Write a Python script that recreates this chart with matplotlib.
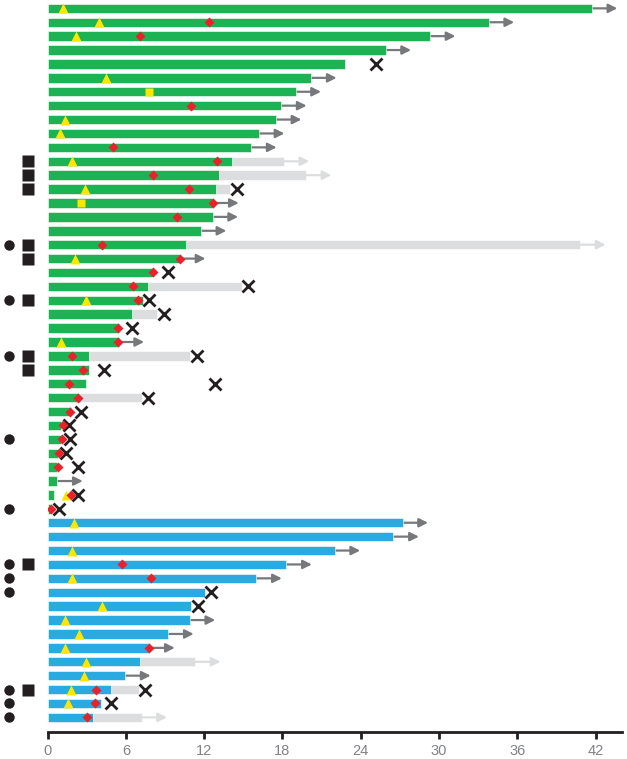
import numpy as np
import matplotlib.pyplot as plt

# one entry per patient, top to bottom
group = ['g'] * 37 + ['b'] * 15
bar_end = [41.7, 33.8, 29.3, 25.9, 22.8, 20.2, 19.0, 17.9, 17.5, 16.2,
           15.6, 14.1, 13.1, 12.9, 12.7, 12.65, 11.75, 10.6, 10.15, 8.1,
           7.7, 7.3, 6.5, 5.5, 5.45, 3.2, 3.2, 2.95, 2.4, 1.8,
           1.05, 1.05, 0.8, 0.75, 0.75, 0.5, 0.3,
           27.2, 26.5, 22.0, 18.3, 16.0, 12.05, 11.0, 10.9, 9.25, 7.8,
           7.1, 5.95, 4.85, 4.1, 3.45]
grey_end = {11: 18.1, 12: 19.8, 13: 14.0, 17: 40.8, 20: 14.9, 22: 8.4,
            25: 10.9, 28: 7.2, 47: 11.3, 49: 7.0, 51: 7.2}
ongoing = [1, 1, 1, 1, 0, 1, 1, 1, 1, 1, 1, 1, 1, 0, 1, 1, 1, 1, 1, 0,
           0, 0, 0, 0, 1, 0, 0, 0, 0, 0, 0, 0, 0, 0, 1, 0, 0,
           1, 1, 1, 1, 1, 0, 0, 1, 1, 1, 1, 1, 0, 0, 1]
death = {4: 25.2, 13: 14.5, 19: 9.2, 20: 15.35, 21: 7.8, 22: 8.9, 23: 6.5,
         25: 11.45, 26: 4.3, 27: 12.8, 28: 7.7, 29: 2.6, 30: 1.65, 31: 1.75,
         32: 1.45, 33: 2.3, 35: 2.3, 36: 0.85,
         42: 12.5, 43: 11.5, 49: 7.5, 50: 4.85}
triangle = {0: 1.2, 1: 3.95, 2: 2.2, 5: 4.5, 8: 1.35, 9: 0.95, 11: 1.85,
            13: 2.9, 18: 2.1, 21: 2.95, 24: 1.05, 35: 1.45,
            37: 2.0, 39: 1.85, 41: 1.85, 43: 4.2, 44: 1.35, 45: 2.4, 46: 1.35,
            47: 2.95, 48: 2.8, 49: 1.8, 50: 1.6}
diamond = {1: 12.4, 2: 7.1, 7: 11.0, 10: 5.05, 11: 13.0, 12: 8.05, 13: 10.85,
           14: 12.7, 15: 9.9, 17: 4.15, 18: 10.15, 19: 8.05, 20: 6.55, 21: 6.95,
           23: 5.4, 24: 5.4, 25: 1.9, 26: 2.7, 27: 1.65, 28: 2.35, 29: 1.75,
           30: 1.15, 31: 1.1, 32: 0.9, 33: 0.8, 35: 1.8, 36: 0.3,
           40: 5.7, 41: 7.9, 46: 7.8, 49: 3.75, 50: 3.6, 51: 3.0}
ysquare = {6: 7.8, 14: 2.55}
circle_rows = [17, 21, 25, 31, 36, 40, 41, 42, 49, 50, 51]
square_rows = [11, 12, 13, 17, 18, 21, 25, 26, 40, 49]

green = '#1db254'
blue = '#29abe2'
grey = '#dcddde'
dark = '#77787b'

fig = plt.figure(figsize=(6.27, 7.59), dpi=100)
ax = fig.add_axes([0.0758, 0.0356, 0.916, 0.9644])

n = len(bar_end)
y = np.arange(n)
h = 0.68
cols = [green if g == 'g' else blue for g in group]
ax.barh(y, bar_end, height=h, color=cols, edgecolor='white', linewidth=0.4, zorder=2)
for i in range(n):
    g_end = grey_end.get(i)
    if g_end is not None:
        ax.barh(i, g_end - bar_end[i], left=bar_end[i], height=h,
                color=grey, edgecolor='white', linewidth=0.4, zorder=1)
    if ongoing[i]:
        start = g_end if g_end is not None else bar_end[i]
        c = grey if g_end is not None else dark
        ax.annotate('', xy=(start + 1.95, i), xytext=(start, i),
                    arrowprops=dict(arrowstyle='-|>', color=c, lw=1.6,
                                    mutation_scale=13, shrinkA=0, shrinkB=0),
                    zorder=1)

ax.plot(list(death.values()), list(death.keys()), 'x', color='#231f20',
        ms=8, mew=2, zorder=4)
ax.plot(list(triangle.values()), list(triangle.keys()), '^', color='#ffe600',
        ms=7.5, mec='none', zorder=3)
ax.plot(list(diamond.values()), list(diamond.keys()), 'D', color='#e8212a',
        ms=5, mec='none', zorder=5)
ax.plot(list(ysquare.values()), list(ysquare.keys()), 's', color='#ffe600',
        ms=5.5, mec='none', zorder=3)
ax.plot([-2.95] * len(circle_rows), circle_rows, 'o', color='#231f20',
        ms=7.5, mec='none', clip_on=False)
ax.plot([-1.5] * len(square_rows), square_rows, 's', color='#231f20',
        ms=8.5, mec='none', clip_on=False)

ax.set_xlim(0, 44)
ax.set_ylim(n - 1 + 1.05, -0.6)
ax.set_xticks(np.arange(0, 43, 6))
ax.set_yticks([])
for s in ['top', 'right', 'left']:
    ax.spines[s].set_visible(False)
ax.spines['bottom'].set_linewidth(2)
ax.spines['bottom'].set_color('#231f20')
ax.tick_params(axis='x', length=5, width=2, color='#231f20', labelsize=10.5,
               labelcolor='#808285', pad=4)
for lab in ax.get_xticklabels():
    lab.set_family('Liberation Sans')

fig.savefig('out.png', dpi=100)
